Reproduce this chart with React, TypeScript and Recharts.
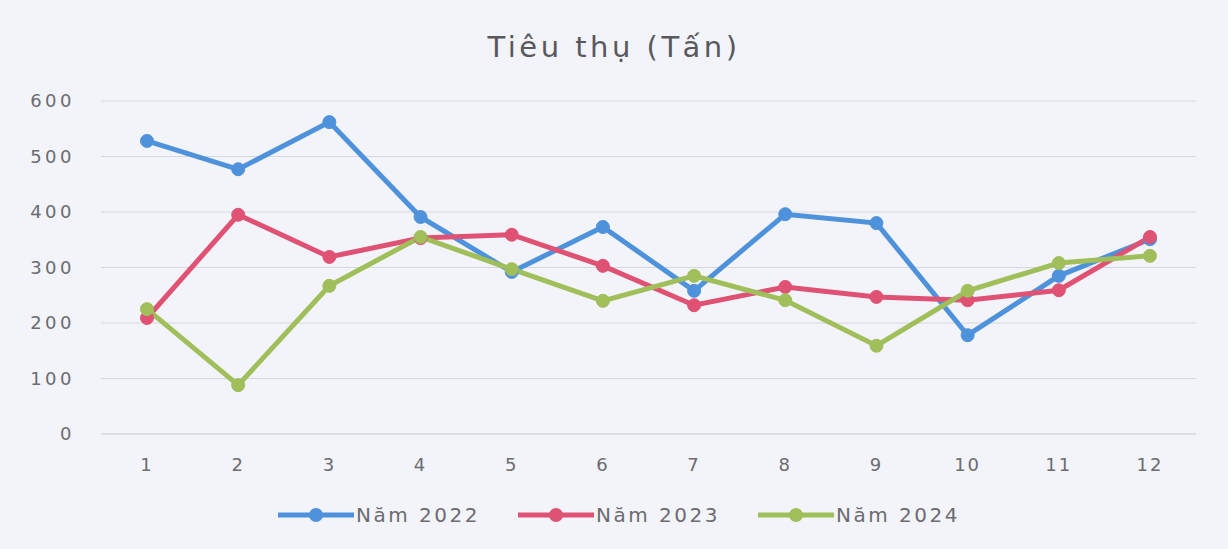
import React from 'react'
import { LineChart, Line, XAxis, YAxis, CartesianGrid } from 'recharts'

const months = ['1', '2', '3', '4', '5', '6', '7', '8', '9', '10', '11', '12']
const nam2022 = [528, 477, 562, 391, 292, 373, 258, 396, 380, 178, 285, 351]
const nam2023 = [209, 395, 319, 353, 359, 303, 232, 265, 247, 241, 259, 355]
const nam2024 = [225, 88, 267, 355, 297, 240, 285, 241, 159, 258, 308, 321]
const yTicks = [0, 100, 200, 300, 400, 500, 600]

const series = [
  { key: 'y2022', name: 'Năm 2022', color: '#4f92dc' },
  { key: 'y2023', name: 'Năm 2023', color: '#df5274' },
  { key: 'y2024', name: 'Năm 2024', color: '#a0bf5a' },
]

const data = months.map((m, i) => ({
  month: m,
  y2022: nam2022[i],
  y2023: nam2023[i],
  y2024: nam2024[i],
}))

const font = '"DejaVu Sans", sans-serif'
const textColor = '#6b6b70'

function LegendRow() {
  return (
    <div
      style={{
        position: 'absolute',
        top: 502,
        left: 278,
        display: 'flex',
        gap: 38,
        fontFamily: font,
        fontSize: 20,
        letterSpacing: 2.5,
        color: textColor,
        lineHeight: '26px',
      }}
    >
      {series.map((s) => (
        <div key={s.key} style={{ display: 'flex', alignItems: 'center' }}>
          <svg width={76} height={20} style={{ marginRight: 2 }}>
            <line x1={0} y1={10} x2={76} y2={10} stroke={s.color} strokeWidth={5} strokeLinecap="round" />
            <circle cx={38} cy={10} r={7} fill={s.color} />
          </svg>
          <span>{s.name}</span>
        </div>
      ))}
    </div>
  )
}

export default function App() {
  return (
    <div style={{ position: 'absolute', left: 0, top: 0, width: 1228, height: 549, background: '#f3f4fa' }}>
      <div
        style={{
          position: 'absolute',
          top: 28,
          left: 0,
          width: 1228,
          textAlign: 'center',
          fontFamily: font,
          fontSize: 29,
          lineHeight: '38px',
          color: '#58585d',
          letterSpacing: 3.5,
        }}
      >
        Tiêu thụ (Tấn)
      </div>
      <LineChart
        width={1228}
        height={549}
        data={data}
        margin={{ top: 101, right: 32, bottom: 75, left: 0 }}
      >
        <CartesianGrid vertical={false} stroke="#d6d7de" strokeWidth={1.2} />
        <XAxis
          dataKey="month"
          axisLine={{ stroke: '#d6d7de' }}
          tickLine={false}
          tickSize={0}
          tickMargin={24}
          height={40}
          padding={{ left: 46, right: 46 }}
          tick={{ fontSize: 18, fill: textColor, fontFamily: font, letterSpacing: 2 }}
        />
        <YAxis
          domain={[0, 600]}
          ticks={yTicks}
          axisLine={false}
          tickLine={false}
          tickSize={0}
          tickMargin={26}
          width={101}
          tick={{ fontSize: 18, fill: textColor, fontFamily: font, letterSpacing: 3.5 }}
        />
        {series.map((s) => (
          <Line
            key={s.key}
            type="linear"
            dataKey={s.key}
            name={s.name}
            stroke={s.color}
            strokeWidth={5}
            dot={{ r: 6.5, fill: s.color, stroke: s.color, strokeWidth: 1 }}
            isAnimationActive={false}
          />
        ))}
      </LineChart>
      <LegendRow />
    </div>
  )
}
